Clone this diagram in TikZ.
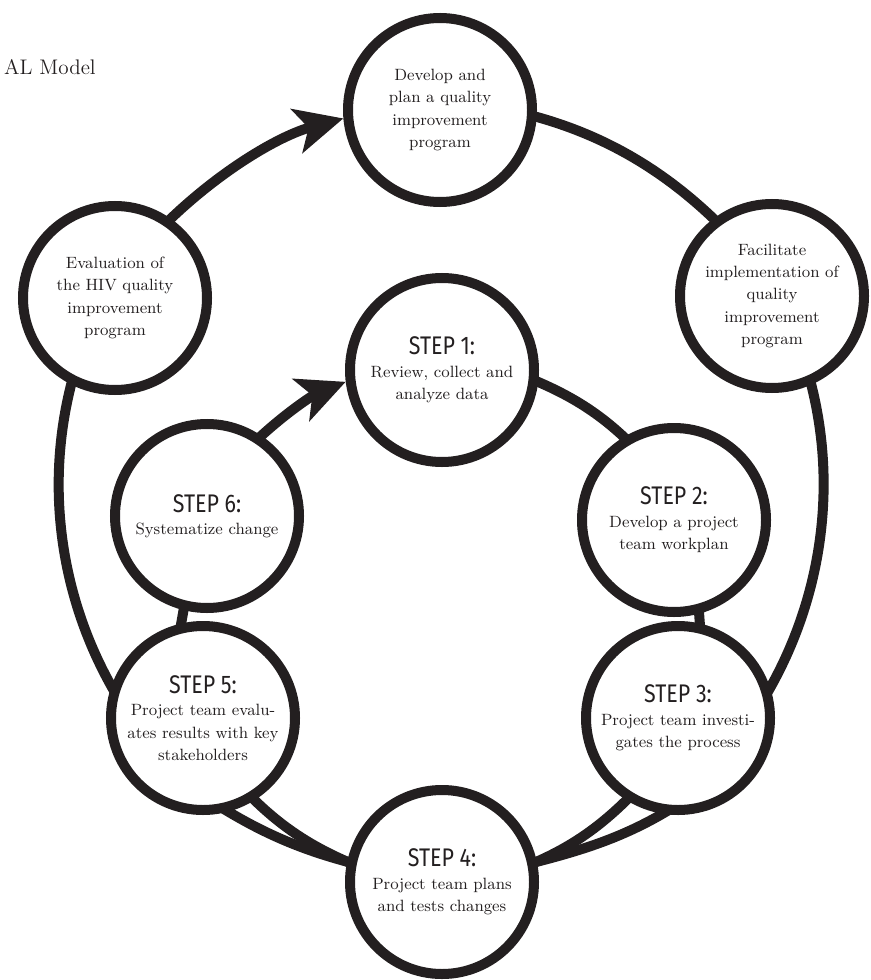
\documentclass[tikz,border=0pt]{standalone}
\usepackage{fontspec}
\usepackage{tikz}
\usetikzlibrary{arrows.meta,backgrounds}
\definecolor{ink}{RGB}{35,31,32}
\newfontfamily\stepfont[FakeStretch=0.84]{Fira Sans}
\newcommand{\stephead}[1]{{\stepfont\fontsize{14.5}{14}\selectfont #1}}

\begin{document}
\begin{tikzpicture}[x=0.2mm, y=-0.2mm, every node/.style={font=\fontsize{9.3}{12.8}\selectfont, text=ink},
  stage/.style={circle, draw=ink, fill=white, line width=2mm, minimum size=36.8mm, inner sep=0pt, align=center},
  ring/.style={draw=ink, line width=2mm, looseness=0.85, shorten <=-2.5mm, shorten >=-2.5mm},
  flow/.style={ring, shorten >=0pt, -{Stealth[length=9.6mm, width=9mm, inset=2.4mm]}}]
  \useasboundingbox (0,0) rectangle (870,980);
  \node[anchor=west, font=\fontsize{12}{14}\selectfont] (title) at (-2,67) {AL Model};
  % outer cycle
  \node[stage] (dev) at (440,110) {Develop and\\plan a quality\\improvement\\program};
  \node[stage] (fac) at (772,296) {Facilitate\\implementation of\\quality\\improvement\\program};
  \node[stage] (eva) at (115,298) {Evaluation of\\the HIV quality\\improvement\\program};
  % inner cycle
  \node[stage] (s1) at (442,370) {\stephead{STEP 1:}\\Review, collect and\\analyze data};
  \node[stage] (s2) at (674,520) {\stephead{STEP 2:}\\Develop a project\\team workplan};
  \node[stage] (s3) at (678,718) {\stephead{STEP 3:}\\Project team investi-\\gates the process};
  \node[stage] (s4) at (442,882) {\stephead{STEP 4:}\\Project team plans\\and tests changes};
  \node[stage] (s5) at (203,718) {\stephead{STEP 5:}\\Project team evalu-\\ates results with key\\stakeholders};
  \node[stage] (s6) at (207,516) {\stephead{STEP 6:}\\Systematize change};
  \begin{scope}[on background layer]
    \draw[flow] (eva.55) to[out=45, in=195] (dev.185);
    \draw[ring] (dev.-4) to[out=-14, in=135] (fac.127);
    \draw[ring] (fac.-66) to[out=-74, in=59] (s3.18);
    \draw[ring] (s3.261) to[out=-148, in=14] (s4.12);
    \draw[ring] (s4.168) to[out=166, in=-32] (s5.285);
    \draw[ring] (s5.161) to[out=121, in=254] (eva.243);
    \draw[flow] (s6.56) to[out=44, in=202] (s1.187);
    \draw[ring] (s1.-7) to[out=-22, in=135] (s2.121);
    \draw[ring] (s2.-75) -- (s3.77);
    \draw[ring] (s3.238) to[out=-134, in=22] (s4.12);
    \draw[ring] (s4.168) to[out=158, in=-46] (s5.302);
    \draw[ring] (s5.103) -- (s6.256);
  \end{scope}
\end{tikzpicture}
\end{document}
